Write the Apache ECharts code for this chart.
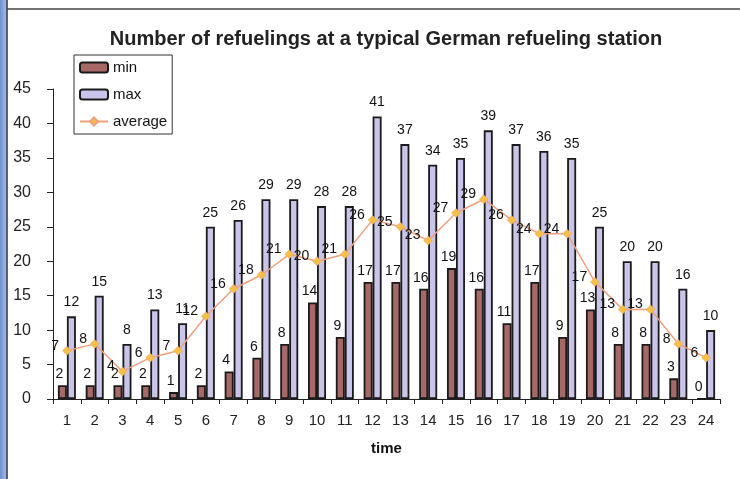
<!DOCTYPE html>
<html><head><meta charset="utf-8">
<script src="https://cdn.jsdelivr.net/npm/echarts@6/dist/echarts.min.js"></script>
<style>html,body{margin:0;padding:0;background:#fff}#c{width:740px;height:479px}</style>
</head><body><div id="c"></div>
<script>
const categories = ['1','2','3','4','5','6','7','8','9','10','11','12','13','14','15','16','17','18','19','20','21','22','23','24'];
const minValues = [2,2,2,2,1,2,4,6,8,14,9,17,17,16,19,16,11,17,9,13,8,8,3,0];
const maxValues = [12,15,8,13,11,25,26,29,29,28,28,41,37,34,35,39,37,36,35,25,20,20,16,10];
const avgValues = [7,8,4,6,7,12,16,18,21,20,21,26,25,23,27,29,26,24,24,17,13,13,8,6];
const yTicks = [0,5,10,15,20,25,30,35,40,45];

const chart = echarts.init(document.getElementById('c'));
const font = 'Liberation Sans, Arial, sans-serif';
const lbl = {show:true, position:'top', color:'#111', fontSize:14, fontFamily:font, distance:4};
chart.setOption({
  backgroundColor:'#fff',
  animation:false,
  graphic:[
    {type:'rect', shape:{x:0,y:0,width:7,height:479}, style:{fill:new echarts.graphic.LinearGradient(0,0,1,0,[{offset:0,color:'#6f8fd0'},{offset:1,color:'#a9c3ee'}])}, z:100},
    {type:'line', shape:{x1:7,y1:0,x2:7,y2:479}, style:{stroke:'#333',lineWidth:1.5}, z:100},
    {type:'line', shape:{x1:7,y1:9,x2:740,y2:9}, style:{stroke:'#444',lineWidth:1.5}, z:100}
  ],
  title:{text:'Number of refuelings at a typical German refueling station', left:381, textAlign:'center', top:24,
    textStyle:{fontFamily:font, fontWeight:'bold', fontSize:20, color:'#222'}},
  legend:{orient:'vertical', left:74, top:55, itemGap:12, itemWidth:28, itemHeight:10,
    borderColor:'#333', borderWidth:1, padding:[5,5,5,5],
    textStyle:{fontFamily:font, fontSize:15, color:'#111'},
    data:['min','max','average']},
  grid:{left:53, right:20, top:89, bottom:80},
  xAxis:{type:'category', data:categories, name:'time', nameLocation:'middle', nameGap:42,
    nameTextStyle:{fontFamily:font, fontWeight:'bold', fontSize:15, color:'#111'},
    axisLine:{lineStyle:{color:'#222', width:1}},
    axisTick:{show:true, length:5, lineStyle:{color:'#222'}},
    axisLabel:{fontFamily:font, fontSize:15, color:'#222', margin:14}},
  yAxis:{type:'value', min:0, max:45, interval:5,
    axisLine:{show:true, lineStyle:{color:'#222'}},
    axisTick:{show:true, length:6, lineStyle:{color:'#222'}},
    splitLine:{show:false},
    axisLabel:{fontFamily:font, fontSize:16, color:'#222', margin:22,
      formatter:v=>yTicks.includes(v)?String(v):''}},
  series:[
    {name:'min', type:'bar', data:minValues, barWidth:9, barGap:'0%',
      itemStyle:{color:'#a86866', borderColor:'#1a1a1a', borderWidth:1.8},
      label:Object.assign({}, lbl, {offset:[-3,0]})},
    {name:'max', type:'bar', data:maxValues, barWidth:9,
      itemStyle:{color:'#c9c5ea', borderColor:'#1a1a1a', borderWidth:1.8},
      label:Object.assign({}, lbl, {distance:7})},
    {name:'average', type:'line', data:avgValues, symbol:'diamond', symbolSize:9,
      lineStyle:{color:'#f0a07c', width:1.5},
      itemStyle:{color:'#f6c040', borderColor:'#f0a07c', borderWidth:0.5},
      label:{show:true, position:'left', distance:3, offset:[0,-5], color:'#111', fontSize:14, fontFamily:font}, z:5}
  ]
});
</script></body></html>
